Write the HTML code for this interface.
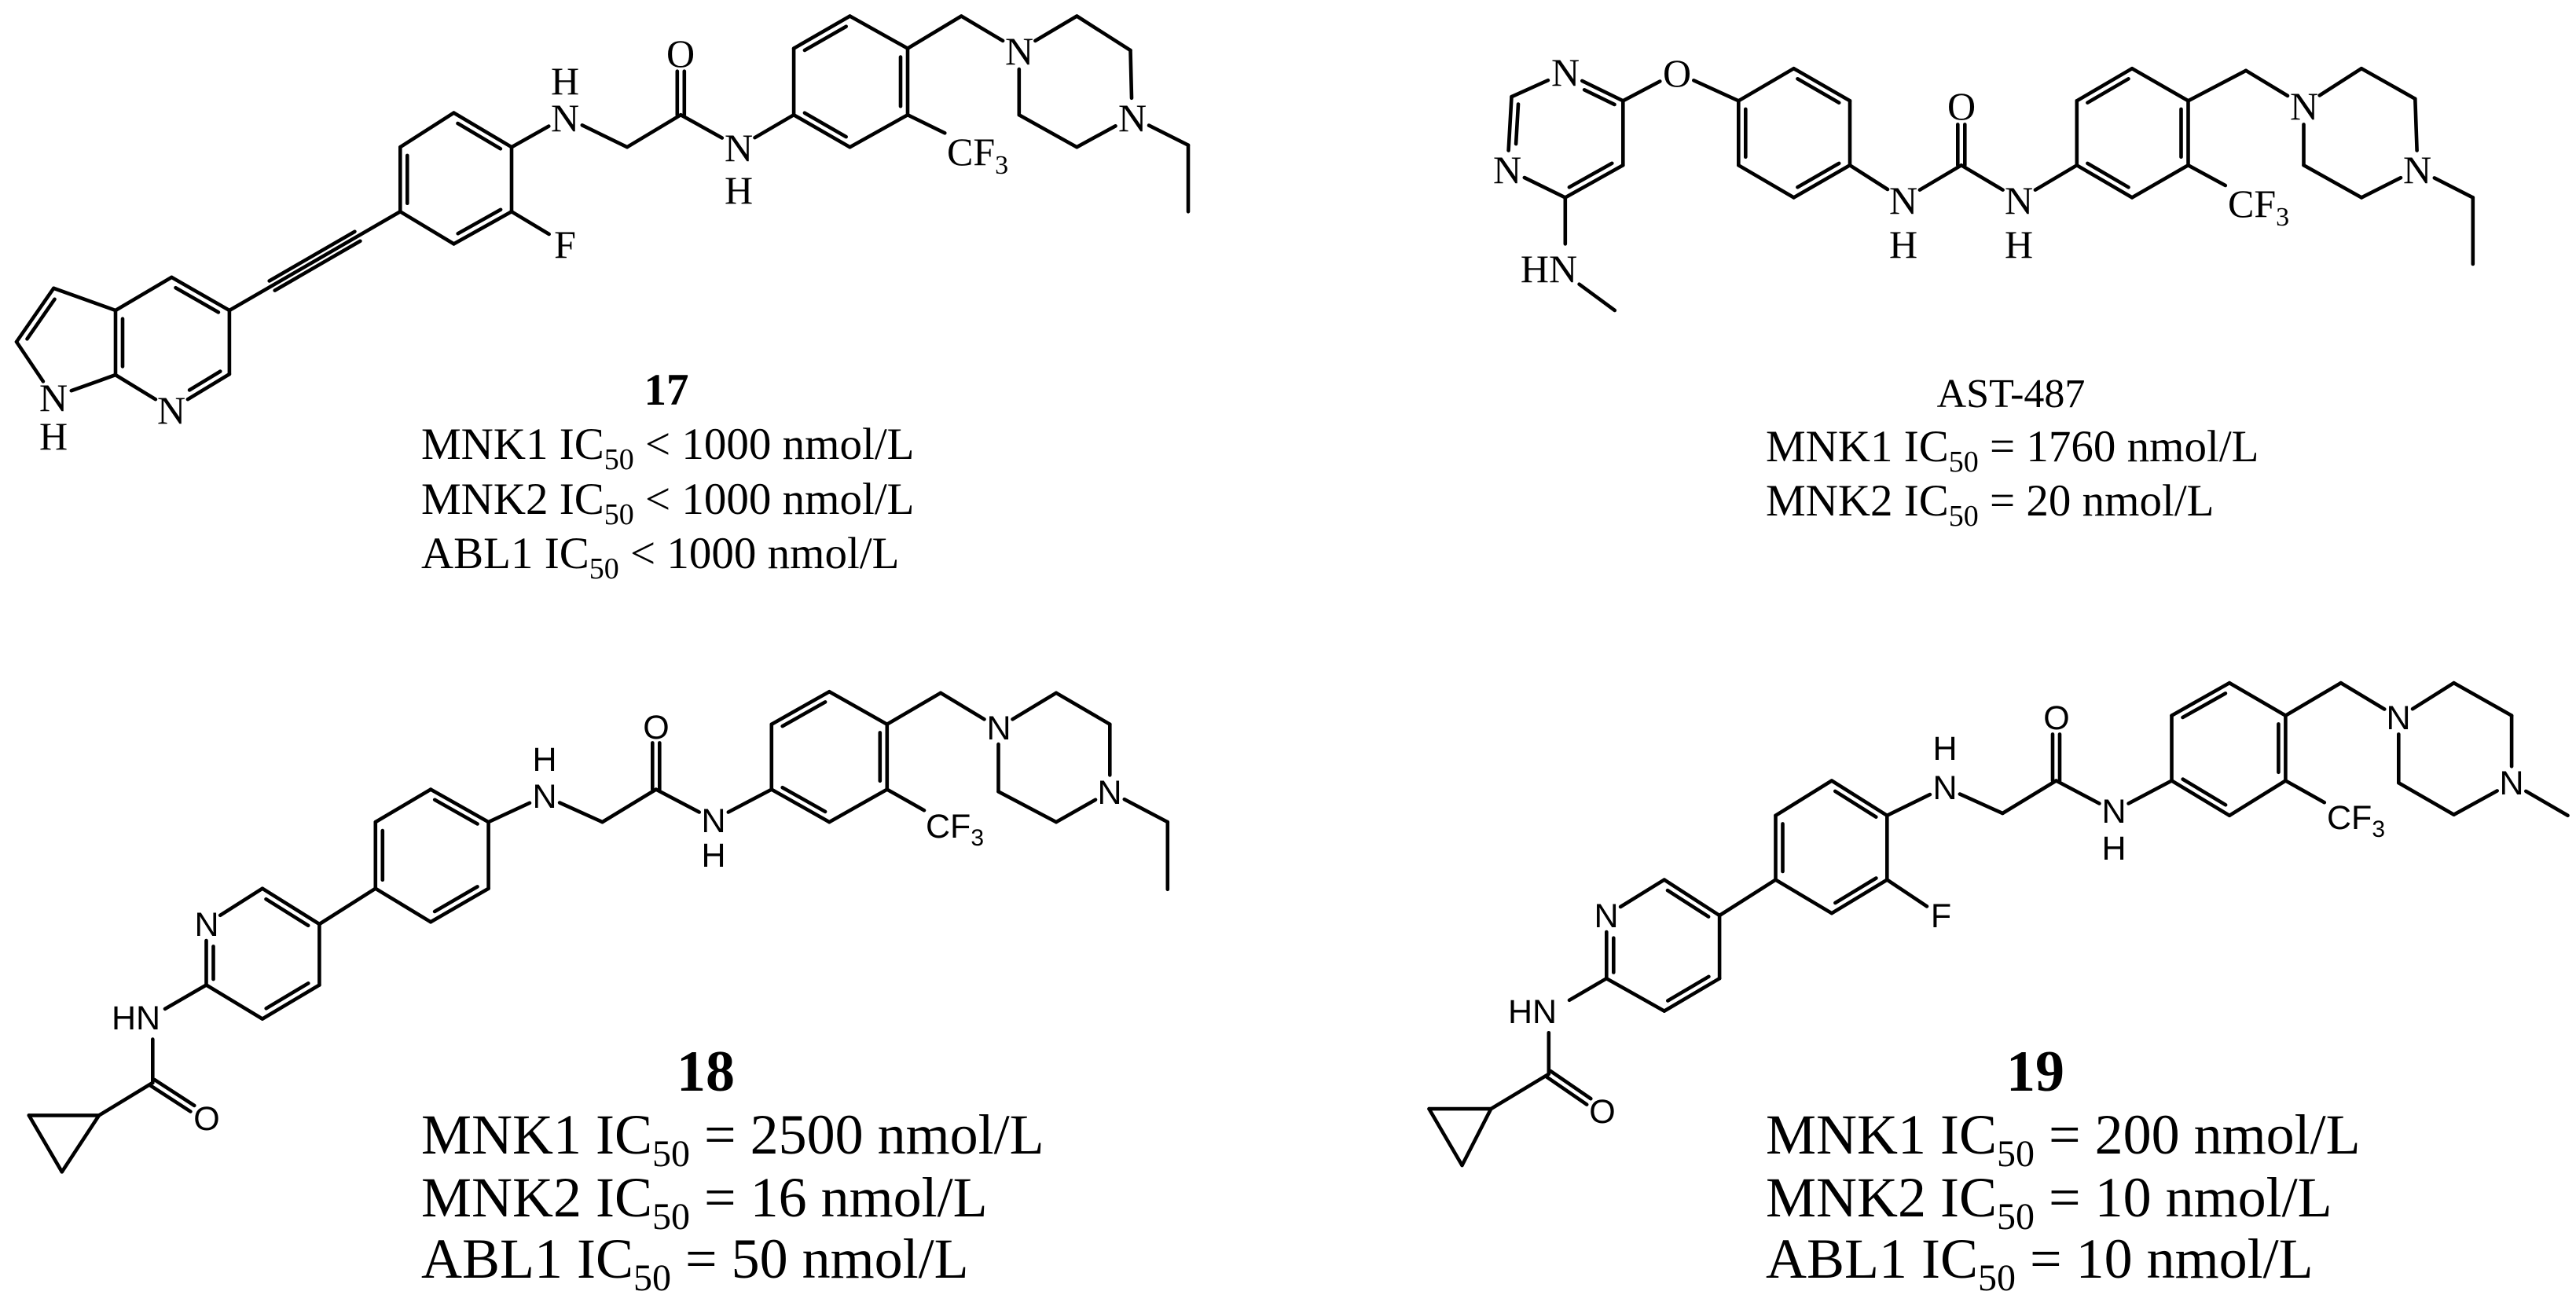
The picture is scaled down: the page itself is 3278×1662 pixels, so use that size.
<!DOCTYPE html>
<html><head><meta charset="utf-8">
<style>
html,body{margin:0;padding:0;background:#fff;}
svg{display:block;}
text{font-family:"Liberation Serif",serif;fill:#000;}
.lab{font-size:50px;text-anchor:middle;}
.sl{font-family:"Liberation Sans",sans-serif;font-size:43px;text-anchor:middle;}
.cap{font-size:57px;}
.capb{font-size:72px;}
line{stroke:#000;stroke-width:4.6;stroke-linecap:round;}
</style></head>
<body>
<svg width="3278" height="1662" viewBox="0 0 3278 1662" xmlns="http://www.w3.org/2000/svg">
<rect width="3278" height="1662" fill="#fff"/>
<g id="b17"></g><g id="bA"></g><g id="b18"></g><g id="b19"></g>
<!-- 17 -->
<g class="lab">
<text x="68" y="523">N</text><text x="68" y="572">H</text>
<text x="218" y="539">N</text>
<text x="719" y="328">F</text>
<text x="719" y="167">N</text><text x="719" y="120">H</text>
<text x="866" y="85">O</text>
<text x="940" y="205">N</text><text x="940" y="259">H</text>
<text x="1297" y="82">N</text>
<text x="1441" y="167">N</text>
</g>
<text x="1205" y="210" font-size="50">CF<tspan font-size="34" dy="11">3</tspan></text>
<text x="848" y="515" font-size="57" font-weight="bold" text-anchor="middle">17</text>
<text class="cap" x="536" y="584">MNK1 IC<tspan font-size="38" dy="13">50</tspan><tspan dy="-13"> &lt; 1000 nmol/L</tspan></text>
<text class="cap" x="536" y="654">MNK2 IC<tspan font-size="38" dy="13">50</tspan><tspan dy="-13"> &lt; 1000 nmol/L</tspan></text>
<text class="cap" x="536" y="723">ABL1 IC<tspan font-size="38" dy="13">50</tspan><tspan dy="-13"> &lt; 1000 nmol/L</tspan></text>
<!-- AST -->
<g class="lab">
<text x="1992" y="109">N</text>
<text x="1918" y="233">N</text>
<text x="2134" y="110">O</text>
<text x="2422" y="272">N</text><text x="2422" y="328">H</text>
<text x="2496" y="152">O</text>
<text x="2569" y="272">N</text><text x="2569" y="328">H</text>
<text x="2932" y="152">N</text>
<text x="3076" y="233">N</text>
<text x="1971" y="359">HN</text>
</g>
<text x="2835" y="276" font-size="50">CF<tspan font-size="34" dy="11">3</tspan></text>
<text x="2559" y="518" font-size="52" text-anchor="middle">AST-487</text>
<text class="cap" x="2247" y="587">MNK1 IC<tspan font-size="38" dy="13">50</tspan><tspan dy="-13"> = 1760 nmol/L</tspan></text>
<text class="cap" x="2247" y="656">MNK2 IC<tspan font-size="38" dy="13">50</tspan><tspan dy="-13"> = 20 nmol/L</tspan></text>
<!-- 18 -->
<g class="sl">
<text class="sl" x="263" y="1438">O</text>
<text class="sl" x="173" y="1310">HN</text>
<text class="sl" x="263" y="1191">N</text>
<text class="sl" x="693" y="1028">N</text><text class="sl" x="693" y="981">H</text>
<text class="sl" x="835" y="940">O</text>
<text class="sl" x="908" y="1059">N</text><text class="sl" x="908" y="1103">H</text>
<text class="sl" x="1271" y="941">N</text>
<text class="sl" x="1412" y="1023">N</text>
</g>
<text x="1178" y="1066" font-size="43" style="font-family:'Liberation Sans',sans-serif">CF<tspan font-size="30" dy="10">3</tspan></text>
<text x="898" y="1388" font-size="74" font-weight="bold" text-anchor="middle">18</text>
<text class="capb" x="536" y="1468">MNK1 IC<tspan font-size="48" dy="16">50</tspan><tspan dy="-16"> = 2500 nmol/L</tspan></text>
<text class="capb" x="536" y="1548">MNK2 IC<tspan font-size="48" dy="16">50</tspan><tspan dy="-16"> = 16 nmol/L</tspan></text>
<text class="capb" x="536" y="1626">ABL1 IC<tspan font-size="48" dy="16">50</tspan><tspan dy="-16"> = 50 nmol/L</tspan></text>
<!-- 19 -->
<g class="sl">
<text class="sl" x="2039" y="1429">O</text>
<text class="sl" x="1950" y="1302">HN</text>
<text class="sl" x="2044" y="1180">N</text>
<text class="sl" x="2470" y="1180">F</text>
<text class="sl" x="2475" y="1017">N</text><text class="sl" x="2475" y="967">H</text>
<text class="sl" x="2617" y="928">O</text>
<text class="sl" x="2690" y="1047">N</text><text class="sl" x="2690" y="1094">H</text>
<text class="sl" x="3052" y="928">N</text>
<text class="sl" x="3196" y="1011">N</text>
</g>
<text x="2961" y="1055" font-size="43" style="font-family:'Liberation Sans',sans-serif">CF<tspan font-size="30" dy="10">3</tspan></text>
<text x="2590" y="1388" font-size="74" font-weight="bold" text-anchor="middle">19</text>
<text class="capb" x="2247" y="1468">MNK1 IC<tspan font-size="48" dy="16">50</tspan><tspan dy="-16"> = 200 nmol/L</tspan></text>
<text class="capb" x="2247" y="1548">MNK2 IC<tspan font-size="48" dy="16">50</tspan><tspan dy="-16"> = 10 nmol/L</tspan></text>
<text class="capb" x="2247" y="1626">ABL1 IC<tspan font-size="48" dy="16">50</tspan><tspan dy="-16"> = 10 nmol/L</tspan></text>
</svg>
<script>
let OX=0,OY=0,KY=0.513,SH=22;
function M(p){return [OX+1.05*p[0],OY+KY*p[1],p[2]?SH:0];}
function seg(p,q){p=M(p);q=M(q);let x1=p[0],y1=p[1],x2=q[0],y2=q[1];const dx=x2-x1,dy=y2-y1,d=Math.hypot(dx,dy);
if(p[2]){x1+=dx/d*p[2];y1+=dy/d*p[2];} if(q[2]){x2-=dx/d*q[2];y2-=dy/d*q[2];} return [x1,y1,x2,y2];}
function ln(a){return `<line x1="${a[0].toFixed(1)}" y1="${a[1].toFixed(1)}" x2="${a[2].toFixed(1)}" y2="${a[3].toFixed(1)}"/>`;}
function B(g,p,q){g.push(ln(seg(p,q)));}
function off(s,o,f){const dx=s[2]-s[0],dy=s[3]-s[1],d=Math.hypot(dx,dy),nx=-dy/d,ny=dx/d;
return [s[0]+dx*f+nx*o,s[1]+dy*f+ny*o,s[2]-dx*f+nx*o,s[3]-dy*f+ny*o];}
function I(g,p,q,c){const s=seg(p,q);const C=M(c);const dx=s[2]-s[0],dy=s[3]-s[1];const mx=(s[0]+s[2])/2,my=(s[1]+s[3])/2;
let o=9; if((-dy)*(C[0]-mx)+dx*(C[1]-my)<0)o=-9; g.push(ln(s)); g.push(ln(off(s,o,0.13)));}
function D(g,p,q){const s=seg(p,q);g.push(ln(off(s,4.5,0)));g.push(ln(off(s,-4.5,0)));}
function T(g,p,q){const s=seg(p,q);g.push(ln(s));g.push(ln(off(s,7,0.25)));g.push(ln(off(s,-7,0.25)));}
function ring(g,r,dbl){let cx=0,cy=0;r.forEach(p=>{cx+=p[0];cy+=p[1];});cx/=r.length;cy/=r.length;
for(let i=0;i<r.length;i++){const p=r[i],q=r[(i+1)%r.length];if(dbl.includes(i))I(g,p,q,[cx,cy]);else B(g,p,q);}}
function put(id,g){document.getElementById(id).innerHTML=g.join("");}
// 17
(function(){OX=0;OY=0;KY=0.513;SH=24;const g=[];
const a3=[65,715],a2=[20,848],n1=[65,985,1],c7a=[140,930],c3a=[140,770],c4=[208,688],c5=[278,770],c6=[278,928],n7=[208,1015,1];
I(g,a3,a2,[95,850]);B(g,a2,n1);B(g,n1,c7a);I(g,c7a,c3a,[208,850]);B(g,c3a,a3);B(g,c3a,c4);I(g,c4,c5,[208,850]);B(g,c5,c6);I(g,c6,n7,[208,850]);B(g,n7,c7a);
const r=[[485,525],[485,365],[550,280],[620,365],[620,525],[550,605]];ring(g,r,[0,2,4]);T(g,c5,r[0]);
B(g,r[4],[685,605,1]);const nh=[685,290,1];B(g,r[3],nh);B(g,nh,[760,365]);B(g,[760,365],[825,285]);D(g,[825,285],[825,130,1]);
const n2=[895,365,1];B(g,[825,285],n2);
const R=[[962,285],[962,120],[1030,40],[1100,120],[1100,285],[1030,365]];ring(g,R,[1,3,5]);B(g,n2,R[0]);
B(g,R[4],[1145,330]);B(g,R[3],[1165,40]);const p1=[1235,125,1],p4=[1372,290,1];
B(g,[1165,40],p1);B(g,p1,[1305,40]);B(g,[1305,40],[1370,125]);B(g,[1370,125],p4);B(g,p4,[1305,365]);B(g,[1305,365],[1235,285]);B(g,[1235,285],p1);
B(g,p4,[1440,360]);B(g,[1440,360],[1440,525]);put("b17",g);})();
// AST
(function(){OX=1640;OY=0;KY=0.513;SH=24;const g=[];
const pn3=[335,180,1],c4=[405,250],c5=[405,410],c6=[335,490],pn1=[265,420,1],c2=[270,240];const cc=[335,335];
I(g,pn3,c4,cc);B(g,c4,c5);I(g,c5,c6,cc);B(g,c6,pn1);I(g,pn1,c2,cc);B(g,c2,pn3);
const o1=[470,180,1];B(g,c4,o1);
const A=[[545,250],[545,410],[612,490],[680,410],[680,250],[612,170]];ring(g,A,[0,2,4]);B(g,o1,A[0]);
const nA=[745,495,1],u=[815,410],nB=[885,495,1];B(g,A[3],nA);B(g,nA,u);D(g,u,[815,262,1]);B(g,u,nB);
const R=[[955,410],[955,250],[1022,170],[1090,250],[1090,410],[1022,490]];ring(g,R,[1,3,5]);B(g,nB,R[0]);
B(g,R[4],[1135,460]);B(g,R[3],[1160,175]);const p1=[1230,262,1],p4=[1368,420,1];
B(g,[1160,175],p1);B(g,p1,[1300,170]);B(g,[1300,170],[1365,245]);B(g,[1365,245],p4);B(g,p4,[1300,490]);B(g,[1300,490],[1230,410]);B(g,[1230,410],p1);
B(g,p4,[1435,490]);B(g,[1435,490],[1435,655]);
B(g,c6,[335,605]);B(g,[352,705],[395,770]);put("bA",g);})();
// 18
(function(){OX=0;OY=800;KY=0.553;SH=21;const g=[];
B(g,[35,1120],[120,1120]);B(g,[120,1120],[75,1250]);B(g,[75,1250],[35,1120]);
const cc=[185,1045];B(g,[120,1120],cc);D(g,cc,[250,1125,1]);B(g,cc,[185,945]);B(g,[200,875],[250,820]);
const P=[[250,820],[250,680,1],[318,598],[387,680],[387,820],[318,898]];ring(g,P,[0,2,4]);
const Ph=[[455,598],[455,445],[522,370],[592,445],[592,598],[522,675]];ring(g,Ph,[0,2,4]);B(g,P[3],Ph[0]);
const nh=[660,385,1];B(g,Ph[3],nh);B(g,nh,[730,445]);B(g,[730,445],[795,370]);D(g,[795,370],[795,225,1]);
const n3=[865,440,1];B(g,[795,370],n3);
const R=[[935,370],[935,220],[1005,145],[1075,220],[1075,370],[1005,445]];ring(g,R,[1,3,5]);B(g,n3,R[0]);
B(g,R[4],[1120,418]);B(g,R[3],[1140,148]);const p1=[1210,228,1],p4=[1345,375,1];
B(g,[1140,148],p1);B(g,p1,[1280,148]);B(g,[1280,148],[1345,220]);B(g,[1345,220],p4);B(g,p4,[1280,445]);B(g,[1280,445],[1210,375]);B(g,[1210,375],p1);
B(g,p4,[1415,445]);B(g,[1415,445],[1415,600]);put("b18",g);})();
// 19
(function(){OX=1640;OY=800;KY=0.553;SH=21;const g=[];
B(g,[170,1105],[245,1105]);B(g,[245,1105],[210,1235]);B(g,[210,1235],[170,1105]);
const cc=[315,1025];B(g,[245,1105],cc);D(g,cc,[380,1110,1]);B(g,cc,[315,930]);B(g,[340,855],[385,805]);
const P=[[385,805],[385,660,1],[455,578],[522,660],[522,805],[455,880]];ring(g,P,[0,2,4]);
const Ph=[[590,578],[590,430],[658,350],[725,430],[725,578],[658,655]];ring(g,Ph,[0,2,4]);B(g,P[3],Ph[0]);
B(g,Ph[4],[790,660,1]);
const nh=[795,365,1];B(g,Ph[3],nh);B(g,nh,[865,425]);B(g,[865,425],[930,350]);D(g,[930,350],[930,205,1]);
const n3=[1000,420,1];B(g,[930,350],n3);
const R=[[1070,350],[1070,200],[1140,125],[1208,200],[1208,350],[1140,430]];ring(g,R,[1,3,5]);B(g,n3,R[0]);
B(g,R[4],[1255,400]);B(g,R[3],[1275,125]);const p1=[1345,205,1],p4=[1482,355,1];
B(g,[1275,125],p1);B(g,p1,[1412,125]);B(g,[1412,125],[1482,200]);B(g,[1482,200],p4);B(g,p4,[1412,428]);B(g,[1412,428],[1345,355]);B(g,[1345,355],p1);
B(g,p4,[1550,430]);put("b19",g);})();
</script>
</body></html>
